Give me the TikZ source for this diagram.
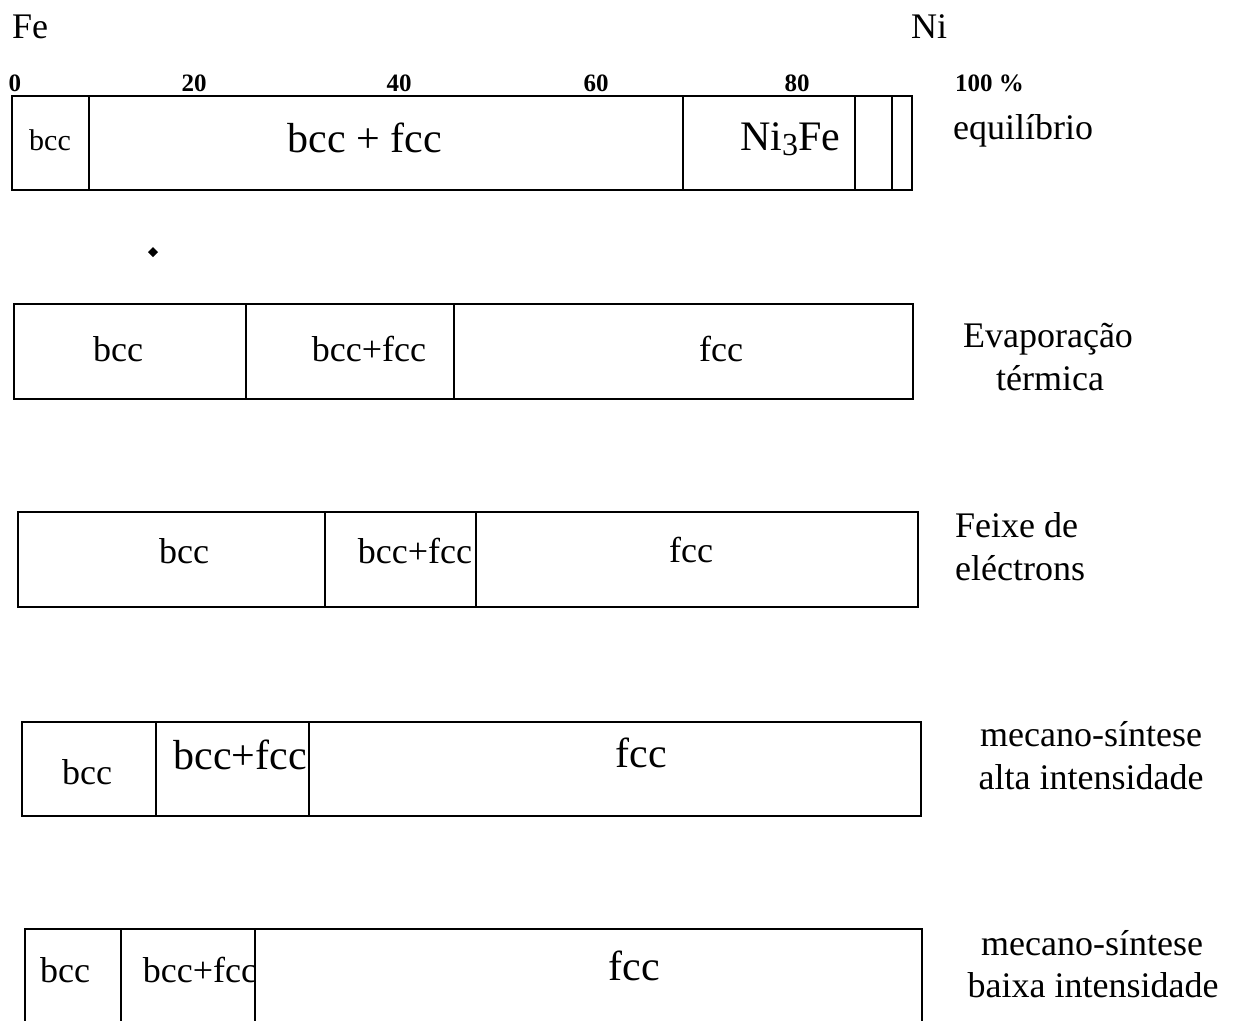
\documentclass[tikz,border=0pt]{standalone}
\usepackage{fontspec}
\setmainfont{Liberation Serif}
\tikzset{
  bar/.style={draw=black, line width=1.8pt, line join=miter},
  lab/.style={anchor=base, inner sep=0pt, font=\fontsize{36}{40}\selectfont},
  biglab/.style={anchor=base, inner sep=0pt, font=\fontsize{42}{46}\selectfont},
  smalllab/.style={anchor=base, inner sep=0pt, font=\fontsize{30}{32}\selectfont},
  ticklab/.style={anchor=base, inner sep=0pt, font=\bfseries\fontsize{25}{27}\selectfont},
  sidelab/.style={anchor=base, inner sep=0pt, font=\fontsize{36}{40}\selectfont},
}
\begin{document}
\begin{tikzpicture}[x=1pt,y=-1pt]
\useasboundingbox (0,0) rectangle (1239,1020);
\fill[white] (0,0) rectangle (1239,1020);

% header
\node[lab, anchor=base west] (fe) at (12,38) {Fe};
\node[lab, anchor=base west] (ni) at (911,38) {Ni};
\node[ticklab] (t0) at (15,91) {0};
\node[ticklab] (t20) at (194,91) {20};
\node[ticklab] (t40) at (399,91) {40};
\node[ticklab] (t60) at (596,91) {60};
\node[ticklab] (t80) at (797,91) {80};
\node[ticklab, anchor=base west] (t100) at (955,91) {100 \%};

% row 1: equilibrio
\draw[bar] (12,96) rectangle (912,190);
\draw[bar] (89,96) -- (89,190);
\draw[bar] (683,96) -- (683,190);
\draw[bar] (855,96) -- (855,190);
\draw[bar] (892,96) -- (892,190);
\node[smalllab] (r1a) at (50,150) {bcc};
\node[biglab] (r1b) at (365,152) {bcc + fcc};
\node[biglab] (r1c) at (790,150) {Ni\raisebox{-0.12em}{\fontsize{32}{34}\selectfont 3}Fe};
\node[sidelab] (r1l) at (1023,139) {equilíbrio};

% stray mark
\fill (148,252) -- (153,247) -- (158,252) -- (153,257) -- cycle;

% row 2: evaporacao termica
\draw[bar] (14,304) rectangle (913,399);
\draw[bar] (246,304) -- (246,399);
\draw[bar] (454,304) -- (454,399);
\node[lab] (r2a) at (118,361) {bcc};
\node[lab] (r2b) at (369,361) {bcc+fcc};
\node[lab] (r2c) at (721,361) {fcc};
\node[sidelab] (r2l1) at (1048,347) {Evaporação};
\node[sidelab] (r2l2) at (1050,390) {térmica};

% row 3: feixe de electrons
\draw[bar] (18,512) rectangle (918,607);
\draw[bar] (325,512) -- (325,607);
\draw[bar] (476,512) -- (476,607);
\node[lab] (r3a) at (184,563) {bcc};
\node[lab] (r3b) at (415,563) {bcc+fcc};
\node[lab] (r3c) at (691,562) {fcc};
\node[sidelab, anchor=base west] (r3l1) at (955,537) {Feixe de};
\node[sidelab, anchor=base west] (r3l2) at (955,580) {eléctrons};

% row 4: mecano-sintese alta intensidade
\draw[bar] (22,722) rectangle (921,816);
\draw[bar] (156,722) -- (156,816);
\draw[bar] (309,722) -- (309,816);
\node[lab] (r4a) at (87,784) {bcc};
\node[biglab] (r4b) at (240,769) {bcc+fcc};
\node[biglab] (r4c) at (641,767) {fcc};
\node[sidelab] (r4l1) at (1091,746) {mecano-síntese};
\node[sidelab] (r4l2) at (1091,789) {alta intensidade};

% row 5: mecano-sintese baixa intensidade
\draw[bar] (25,1021) -- (25,929) -- (922,929) -- (922,1021);
\draw[bar] (121,929) -- (121,1021);
\draw[bar] (255,929) -- (255,1021);
\node[lab] (r5a) at (65,982) {bcc};
\node[lab] (r5b) at (200,982) {bcc+fcc};
\node[biglab] (r5c) at (634,980) {fcc};
\node[sidelab] (r5l1) at (1092,955) {mecano-síntese};
\node[sidelab] (r5l2) at (1093,997) {baixa intensidade};
\end{tikzpicture}
\end{document}
